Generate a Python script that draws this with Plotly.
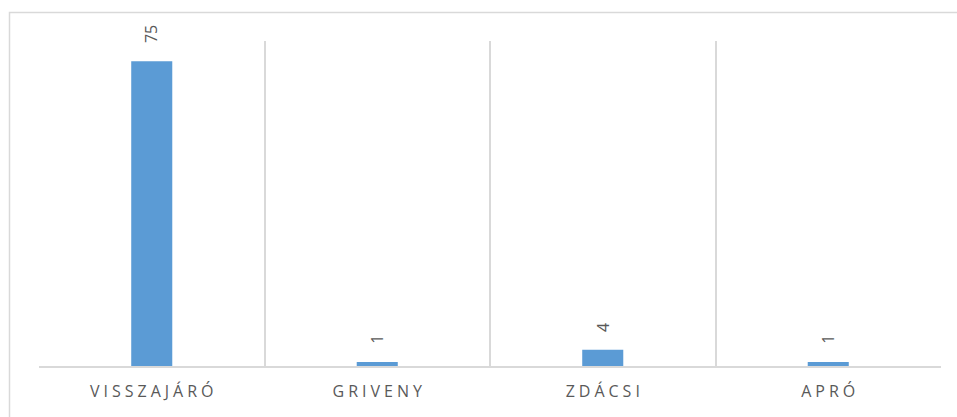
import plotly.graph_objects as go

# Chart data
categories = ["VISSZAJÁRÓ", "GRIVENY", "ZDÁCSI", "APRÓ"]
values = [75, 1, 4, 1]

W, H = 957, 417
M_L, M_R, M_T, M_B = 39, 16, 41, 51

BAR_COLOR = "#5B9BD5"
TEXT_COLOR = "#595959"
GRID_COLOR = "#D9D9D9"
FONT = "Open Sans"

SPACER = "\u2005"


def spaced(label):
    return SPACER.join(label)


fig = go.Figure()
fig.add_trace(go.Bar(
    x=categories,
    y=values,
    marker=dict(color=BAR_COLOR, line=dict(width=0)),
    hoverinfo="x+y",
))

# Rotated value labels above each bar
for cat, val in zip(categories, values):
    fig.add_annotation(
        x=cat, y=val, text=str(val),
        textangle=-90, showarrow=False,
        xanchor="center", yanchor="bottom",
        yshift=16,
        font=dict(family=FONT, size=16, color=TEXT_COLOR),
    )

# Outer chart frame
plot_w = W - M_L - M_R
plot_h = H - M_T - M_B
fig.add_shape(
    type="rect", xref="paper", yref="paper",
    x0=(9.5 - M_L) / plot_w, x1=(W + 5 - M_L) / plot_w,
    y0=-(H + 5 - (H - M_B)) / plot_h, y1=1 + (M_T - 12.5) / plot_h,
    line=dict(color=GRID_COLOR, width=1.5), layer="below",
)

fig.update_layout(
    width=W, height=H,
    margin=dict(l=M_L, r=M_R, t=M_T, b=M_B),
    paper_bgcolor="white", plot_bgcolor="white",
    showlegend=False,
    bargap=0.818,
    font=dict(family=FONT, color=TEXT_COLOR),
    xaxis=dict(
        type="category",
        tickson="boundaries",
        tickmode="array",
        tickvals=categories,
        ticktext=[spaced(c) for c in categories],
        showgrid=True, gridcolor=GRID_COLOR, gridwidth=1.5,
        showline=True, linecolor=GRID_COLOR, linewidth=2,
        ticks="", ticklen=0,
        ticklabelstandoff=10,
        tickfont=dict(family=FONT, size=16, color=TEXT_COLOR),
        fixedrange=True,
    ),
    yaxis=dict(
        range=[0, 80],
        showgrid=False, zeroline=False, showline=False,
        showticklabels=False, ticks="",
        fixedrange=True,
    ),
)

fig.write_html("out.html")
